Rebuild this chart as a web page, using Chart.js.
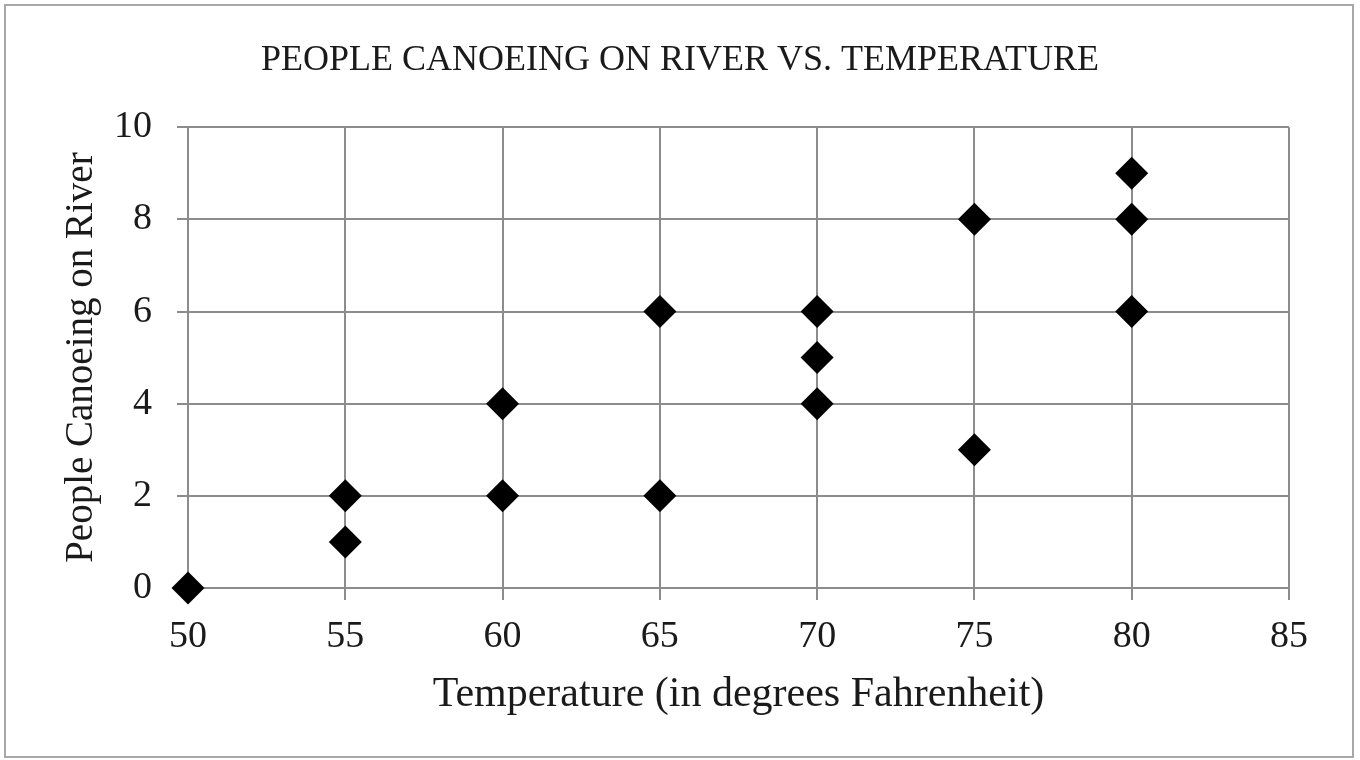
<!DOCTYPE html>
<html>
<head>
<meta charset="utf-8">
<script src="https://cdn.jsdelivr.net/npm/chart.js@4/dist/chart.umd.min.js"></script>
<style>
  html, body { margin: 0; padding: 0; background: #fff; }
  #wrap { position: relative; width: 1360px; height: 760px; }
  #frame {
    position: absolute; left: 4px; top: 4px; width: 1346px; height: 750px;
    border: 2px solid #a8a8a8; pointer-events: none;
  }
  canvas { position: absolute; left: 0; top: 0; }
</style>
</head>
<body>
<div id="wrap">
  <canvas id="chart" width="1360" height="760"></canvas>
  <div id="frame"></div>
</div>
<script>
// temperature (F) and number of people canoeing
var temperatures = [50, 55, 55, 60, 60, 65, 65, 70, 70, 70, 75, 75, 80, 80, 80];
var canoeists    = [0, 2, 1, 4, 2, 6, 2, 6, 5, 4, 8, 3, 9, 8, 6];
var xTicks = [50, 55, 60, 65, 70, 75, 80, 85];
var yTicks = [0, 2, 4, 6, 8, 10];

var serif = "'Liberation Serif', 'Times New Roman', serif";
var textColor = '#1a1a1a';
var gridColor = '#8c8c8c';

var points = temperatures.map(function(t, i) { return { x: t, y: canoeists[i] }; });

new Chart(document.getElementById('chart'), {
    type: 'scatter',
    data: {
        datasets: [{
            label: 'People Canoeing on River',
            data: points,
            pointStyle: 'rectRot',
            pointRadius: 16.5,
            pointHoverRadius: 16.5,
            backgroundColor: '#000',
            borderColor: '#000',
            borderWidth: 0,
            clip: false
        }]
    },
    options: {
        responsive: false,
        animation: false,
        // symmetric padding keeps the title centred on the whole canvas
        layout: { padding: { left: 35, right: 35, top: 0, bottom: 0 } },
        plugins: {
            legend: { display: false },
            tooltip: { enabled: false },
            title: {
                display: true,
                text: 'PEOPLE CANOEING ON RIVER VS. TEMPERATURE',
                color: textColor,
                font: { family: serif, size: 36, weight: 'normal' },
                padding: { top: 39, bottom: 45 }
            }
        },
        scales: {
            x: {
                type: 'linear',
                min: 50,
                max: 85,
                afterBuildTicks: function(scale) {
                    scale.ticks = xTicks.map(function(v) { return { value: v }; });
                },
                afterFit: function(scale) { scale.height = 172; },
                grid: { color: gridColor, lineWidth: 2, tickLength: 12, tickColor: gridColor },
                border: { color: gridColor, width: 2 },
                ticks: {
                    color: textColor,
                    padding: 14,
                    maxRotation: 0,
                    font: { family: serif, size: 38 }
                },
                title: {
                    display: true,
                    text: 'Temperature (in degrees Fahrenheit)',
                    color: textColor,
                    font: { family: serif, size: 42 },
                    padding: { top: 0, bottom: 40 }
                }
            },
            y: {
                type: 'linear',
                min: 0,
                max: 10,
                afterBuildTicks: function(scale) {
                    scale.ticks = yTicks.map(function(v) { return { value: v }; });
                },
                afterFit: function(scale) { scale.width = 153; },
                grid: { color: gridColor, lineWidth: 2, tickLength: 11, tickColor: gridColor },
                border: { color: gridColor, width: 2 },
                ticks: {
                    color: textColor,
                    padding: 25,
                    font: { family: serif, size: 38 }
                },
                title: {
                    display: true,
                    text: 'People Canoeing on River',
                    color: textColor,
                    font: { family: serif, size: 39 },
                    padding: { top: 23, bottom: 0 }
                }
            },
            // empty spacer on the right so the plot ends where the reference does
            yRight: {
                type: 'linear',
                position: 'right',
                min: 0,
                max: 10,
                afterFit: function(scale) { scale.width = 36; },
                grid: { display: false },
                border: { display: false },
                ticks: { display: false }
            }
        }
    }
});
</script>
</body>
</html>
